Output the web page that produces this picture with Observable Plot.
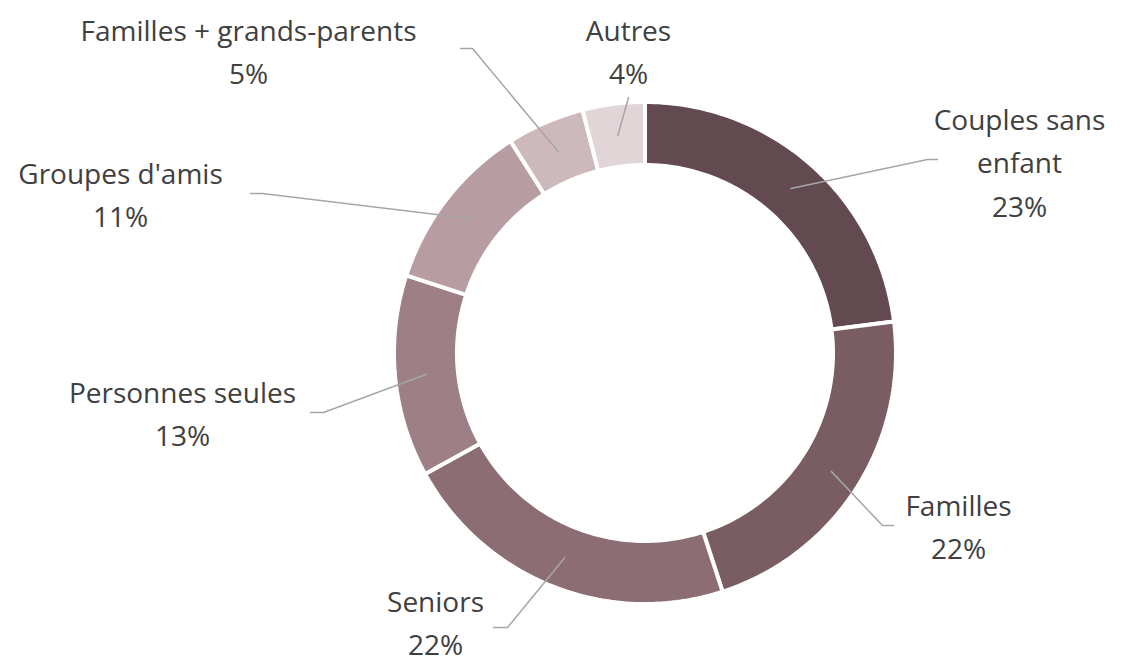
<!DOCTYPE html>
<html>
<head>
<meta charset="utf-8">
<script src="https://cdn.jsdelivr.net/npm/d3@7"></script>
<script src="https://cdn.jsdelivr.net/npm/@observablehq/plot@0.6"></script>
<style>
  html, body { margin: 0; padding: 0; background: #ffffff; }
  #chart { width: 1128px; height: 664px; }
</style>
</head>
<body>
<div id="chart"></div>
<script>
// ---- Data ----
const categories = ["Couples sans enfant", "Familles", "Seniors", "Personnes seules", "Groupes d'amis", "Familles + grands-parents", "Autres"];
const shares = [23, 22, 22, 13, 11, 5, 4];
const labelNames = ["Couples sans\nenfant", "Familles", "Seniors", "Personnes seules", "Groupes d'amis", "Familles + grands-parents", "Autres"];

// ---- Styles / layout ----
const colors = ["#634a51", "#7a5c63", "#8d6d74", "#9e7f86", "#b79ca1", "#cdb8bb", "#e2d5d7"];
const CX = 645, CY = 353, R_OUT = 251, R_IN = 188, R_MID = 220;
// label block centres and leader bend / end points (pixels)
const labelX = [1019, 958, 435, 182, 120, 248, 628];
const labelY = [159, 523, 619, 410, 191, 48, 48];
const bendPts = [[927, 159], [882, 525], [507, 627], [323, 412], [262, 193], [472, 48], null];
const endPts  = [[937, 159], [893, 525], [493, 627], [310, 412], [250, 193], [460, 48], [628, 97]];

// ---- Geometry from data ----
const pie = d3.pie().sort(null).value((d, i) => shares[i])(categories);
const pt = (a, r) => [CX + r * Math.sin(a), CY - r * Math.cos(a)];

const arcPts = [];
pie.forEach((s, i) => {
  const n = 80;
  for (let k = 0; k <= n; k++) {
    const a = s.startAngle + (s.endAngle - s.startAngle) * k / n;
    const [xo, yo] = pt(a, R_OUT);
    const [xi, yi] = pt(a, R_IN);
    arcPts.push({name: categories[i], xo, yo, xi, yi});
  }
});

const leaderPts = [];
pie.forEach((s, i) => {
  const mid = (s.startAngle + s.endAngle) / 2;
  const [sx, sy] = pt(mid, R_MID);
  leaderPts.push({name: categories[i], x: sx, y: sy});
  if (bendPts[i]) leaderPts.push({name: categories[i], x: bendPts[i][0], y: bendPts[i][1]});
  leaderPts.push({name: categories[i], x: endPts[i][0], y: endPts[i][1]});
});

const labels = categories.map((c, i) => ({
  text: labelNames[i] + "\n" + shares[i] + "%",
  x: labelX[i],
  y: labelY[i]
}));

const FONT = "'Open Sans', Lato, sans-serif";
const chart = Plot.plot({
  width: 1128,
  height: 664,
  margin: 0,
  style: {background: "#ffffff", fontFamily: FONT},
  x: {domain: [0, 1128], range: [0, 1128], axis: null},
  y: {domain: [0, 664], range: [0, 664], axis: null},
  color: {domain: categories, range: colors},
  marks: [
    Plot.area(arcPts, {
      x1: "xo", y1: "yo", x2: "xi", y2: "yi",
      z: "name", fill: "name",
      stroke: "#ffffff", strokeWidth: 4, strokeLinejoin: "miter",
      curve: "linear"
    }),
    Plot.line(leaderPts, {
      x: "x", y: "y", z: "name",
      stroke: "#a6a6a6", strokeWidth: 1.5, curve: "linear"
    }),
    Plot.text(labels, {
      x: "x", y: "y", text: "text",
      fill: "#404040", fontSize: 28, lineHeight: 1.55,
      textAnchor: "middle", lineAnchor: "middle",
      fontFamily: FONT
    })
  ]
});
document.getElementById("chart").appendChild(chart);
</script>
</body>
</html>
